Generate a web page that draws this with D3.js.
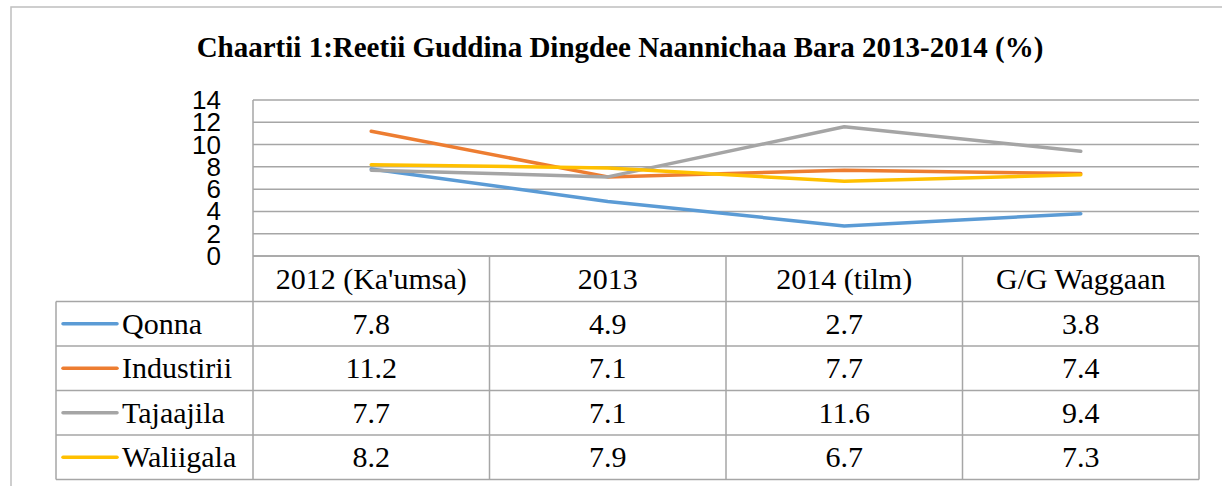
<!DOCTYPE html>
<html>
<head>
<meta charset="UTF-8">
<script src="https://cdn.jsdelivr.net/npm/d3@7"></script>
</head>
<body style="margin:0">
<script>
  var categories = ["2012 (Ka'umsa)", "2013", "2014 (tilm)", "G/G Waggaan"];
  var seriesNames = ["Qonna", "Industirii", "Tajaajila", "Waliigala"];
  var qonna = [7.8, 4.9, 2.7, 3.8];
  var industirii = [11.2, 7.1, 7.7, 7.4];
  var tajaajila = [7.7, 7.1, 11.6, 9.4];
  var waliigala = [8.2, 7.9, 6.7, 7.3];
  var yTicks = [0, 2, 4, 6, 8, 10, 12, 14];
  var colors = ["#5b9bd5", "#ed7d31", "#a5a5a5", "#ffc000"];

  var series = [qonna, industirii, tajaajila, waliigala];

  var width = 1222, height = 486;
  var plotL = 253, plotR = 1199, plotT = 100, plotB = 256;
  var legL = 56, rowH = 44.5, headH = 45.5;
  var gridColor = "#a6a6a6";

  var svg = d3.select("body").append("svg")
    .attr("width", width)
    .attr("height", height)
    .attr("font-family", "serif");

  // outer chart border
  svg.append("rect")
    .attr("x", 11).attr("y", 7)
    .attr("width", 1240).attr("height", 500)
    .attr("fill", "none")
    .attr("stroke", "#bfbfbf")
    .attr("stroke-width", 1.5);

  svg.append("text")
    .attr("x", 620).attr("y", 57)
    .attr("text-anchor", "middle")
    .attr("font-family", "serif")
    .attr("font-weight", "bold")
    .attr("font-size", 29)
    .text("Chaartii 1:Reetii Guddina Dingdee Naannichaa Bara 2013-2014 (%)");

  var x = d3.scalePoint().domain(categories).range([plotL, plotR]).padding(0.5);
  var band = d3.scaleBand().domain(categories).range([plotL, plotR]);
  var y = d3.scaleLinear().domain([0, 14]).range([plotB, plotT]);

  var grid = svg.append("g")
    .attr("stroke", gridColor)
    .attr("stroke-width", 1.5);
  grid.selectAll("line.h")
    .data(yTicks)
    .enter().append("line")
    .attr("x1", plotL).attr("x2", plotR)
    .attr("y1", d => y(d)).attr("y2", d => y(d));
  grid.append("line")
    .attr("x1", plotL).attr("x2", plotL)
    .attr("y1", plotT).attr("y2", plotB);

  svg.append("g").selectAll("text")
    .data(yTicks)
    .enter().append("text")
    .attr("font-family", "sans-serif")
    .attr("font-size", 26)
    .attr("x", 221)
    .attr("y", d => y(d) + 9)
    .attr("text-anchor", "end")
    .text(d => d);

  var line = d3.line()
    .x((d, i) => x(categories[i]))
    .y(d => y(d));

  svg.append("g").selectAll("path")
    .data(series)
    .enter().append("path")
    .attr("d", d => line(d))
    .attr("fill", "none")
    .attr("stroke", (d, i) => colors[i])
    .attr("stroke-width", 3.5)
    .attr("stroke-linejoin", "round")
    .attr("stroke-linecap", "round");

  // data table
  var tbl = svg.append("g")
    .attr("stroke", gridColor)
    .attr("stroke-width", 1.5);
  var rowY = i => plotB + headH + i * rowH;
  var tableB = rowY(seriesNames.length);

  tbl.append("line").attr("x1", plotL).attr("x2", plotR).attr("y1", plotB).attr("y2", plotB);
  tbl.selectAll("line.row")
    .data(d3.range(seriesNames.length + 1))
    .enter().append("line")
    .attr("x1", legL).attr("x2", plotR)
    .attr("y1", d => rowY(d)).attr("y2", d => rowY(d));

  tbl.append("line").attr("x1", legL).attr("x2", legL).attr("y1", rowY(0)).attr("y2", tableB);
  tbl.selectAll("line.col")
    .data(categories)
    .enter().append("line")
    .attr("x1", d => band(d)).attr("x2", d => band(d))
    .attr("y1", plotB).attr("y2", tableB);
  tbl.append("line").attr("x1", plotR).attr("x2", plotR).attr("y1", plotB).attr("y2", tableB);

  var txt = svg.append("g")
    .attr("font-family", "serif")
    .attr("font-size", 30);

  txt.selectAll("text.head")
    .data(categories)
    .enter().append("text")
    .attr("x", d => x(d))
    .attr("y", plotB + headH / 2 + 10)
    .attr("text-anchor", "middle")
    .text(d => d);

  var rows = txt.selectAll("g")
    .data(seriesNames)
    .enter().append("g")
    .attr("transform", (d, i) => `translate(0,${rowY(i) + rowH / 2})`);

  rows.append("line")
    .attr("x1", 63).attr("x2", 117)
    .attr("stroke", (d, i) => colors[i])
    .attr("stroke-width", 3.5)
    .attr("stroke-linecap", "round");

  rows.append("text")
    .attr("x", 122)
    .attr("y", 10)
    .text(d => d);

  rows.each(function(name, i) {
    d3.select(this).selectAll("text.val")
      .data(series[i])
      .enter().append("text")
      .attr("class", "val")
      .attr("x", (v, j) => x(categories[j]))
      .attr("y", 10)
      .attr("text-anchor", "middle")
      .text(v => v.toFixed(1));
  });
</script>
</body>
</html>
